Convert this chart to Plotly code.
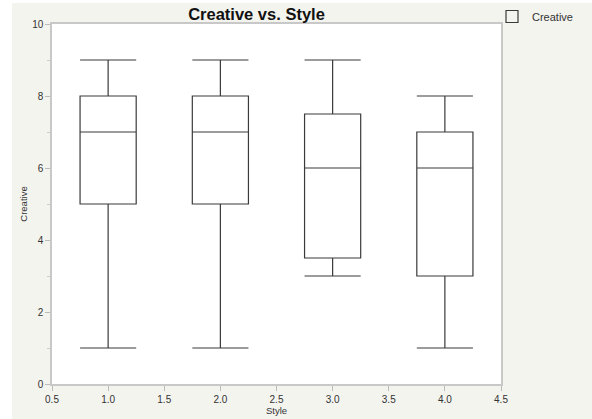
import plotly.graph_objects as go

styles = [1.0, 2.0, 3.0, 4.0]
lower = [1, 1, 3, 1]
q1 = [5, 5, 3.5, 3]
median = [7, 7, 6, 6]
q3 = [8, 8, 7.5, 7]
upper = [9, 9, 9, 8]
x_ticks = [0.5, 1.0, 1.5, 2.0, 2.5, 3.0, 3.5, 4.0, 4.5]
x_ticklabels = ["0.5", "1.0", "1.5", "2.0", "2.5", "3.0", "3.5", "4.0", "4.5"]
y_ticks = [0, 2, 4, 6, 8, 10]

fig = go.Figure()
fig.add_trace(go.Box(
    x=styles, q1=q1, median=median, q3=q3,
    lowerfence=lower, upperfence=upper,
    name="Creative",
    width=0.5, whiskerwidth=1,
    fillcolor="rgba(255,255,255,0)",
    line=dict(color="#3a3a3a", width=1.2),
    boxpoints=False, showlegend=True,
))

W, H = 592, 419
L, R, T, B = 52, 501, 24, 384
fig.update_layout(
    width=W, height=H,
    margin=dict(l=L, r=W - R, t=T, b=H - B, autoexpand=False),
    paper_bgcolor="#f4f4ef", plot_bgcolor="#ffffff",
    font=dict(family="Liberation Sans, Arial, sans-serif", size=10, color="#333333"),
    title=dict(text="<b>Creative vs. Style</b>", xref="container", x=256.5 / W, xanchor="center",
               yref="container", y=1 - 14.5 / H, yanchor="middle",
               font=dict(size=16.5, color="#111111")),
    showlegend=True,
    legend=dict(xref="container", yref="container", x=492 / W, y=1 - 16.5 / H,
                xanchor="left", yanchor="middle",
                bgcolor="rgba(0,0,0,0)", font=dict(size=11, color="#333333")),
    shapes=[
        dict(type="rect", xref="paper", yref="paper",
             x0=(0 - L) / (R - L), x1=(12 - L) / (R - L),
             y0=(B - H) / (B - T), y1=(B - 0) / (B - T),
             fillcolor="#ffffff", line=dict(width=0), layer="above"),
        dict(type="rect", xref="paper", yref="paper",
             x0=(0 - L) / (R - L), x1=(W - L) / (R - L),
             y0=(B - 3) / (B - T), y1=(B - 0) / (B - T),
             fillcolor="#ffffff", line=dict(width=0), layer="above"),
    ],
)
fig.update_xaxes(
    range=[0.5, 4.5], tickvals=x_ticks, ticktext=x_ticklabels, automargin=False,
    showgrid=False, zeroline=False, showline=True, linecolor="#c8c8c8", linewidth=1.5,
    mirror=True, ticks="outside", ticklen=5, tickcolor="#bbbbbb",
    tickfont=dict(size=10, color="#333333"),
    title=dict(text="Style", standoff=2, font=dict(size=9.5)),
)
fig.update_yaxes(
    range=[0, 10], tickvals=y_ticks, automargin=False,
    showgrid=False, zeroline=False, showline=True, linecolor="#c8c8c8", linewidth=1.5,
    mirror=True, ticks="outside", ticklen=5, tickcolor="#bbbbbb",
    tickfont=dict(size=10, color="#333333"),
    minor=dict(tickvals=[1, 3, 5, 7, 9], ticks="outside", ticklen=3, tickcolor="#cccccc"),
    title=dict(text="Creative", standoff=3, font=dict(size=9.5)),
)
fig.write_html("out.html", config={"displayModeBar": False},
               post_script="document.body.style.margin='0';")
